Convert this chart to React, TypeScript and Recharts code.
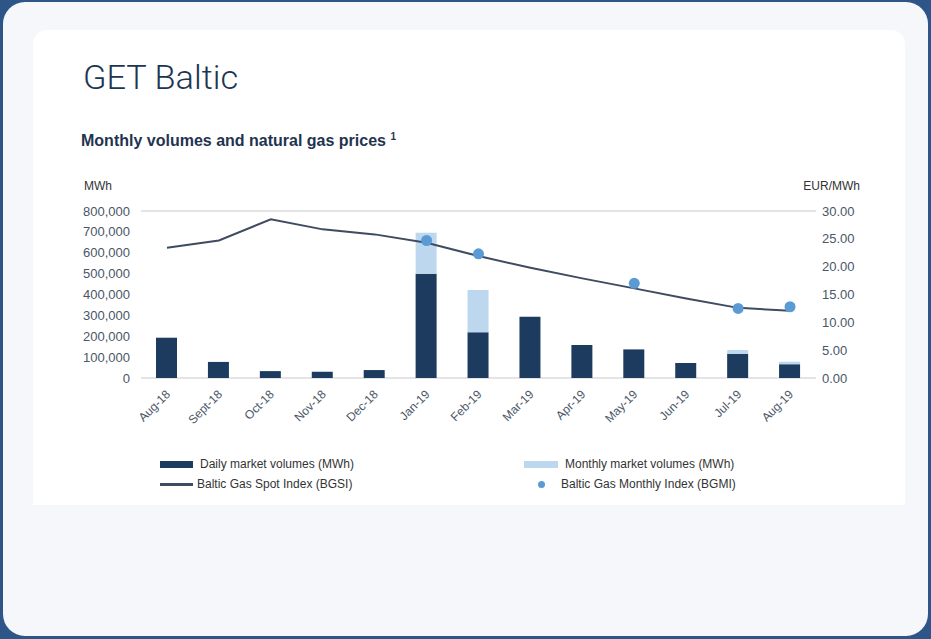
import {
  ComposedChart,
  Bar,
  Line,
  XAxis,
  YAxis,
  CartesianGrid,
} from "recharts";

const months = [
  "Aug-18", "Sept-18", "Oct-18", "Nov-18", "Dec-18", "Jan-19", "Feb-19",
  "Mar-19", "Apr-19", "May-19", "Jun-19", "Jul-19", "Aug-19",
];
const dailyVolumes = [193000, 77000, 33000, 30000, 38000, 500000, 219000, 294000, 158000, 137000, 72000, 116000, 66000];
const monthlyVolumes = [0, 0, 0, 0, 0, 196000, 202000, 0, 0, 0, 0, 18000, 12000];
const spotIndex = [23.4, 24.7, 28.5, 26.7, 25.8, 24.3, 21.9, 19.8, 17.9, 16.1, 14.3, 12.6, 12.1];
const monthlyIndex = [null, null, null, null, null, 24.7, 22.3, null, null, 17.0, null, 12.5, 12.8];

const volumeTicks = [0, 100000, 200000, 300000, 400000, 500000, 600000, 700000, 800000];
const priceTicks = [0, 5, 10, 15, 20, 25, 30];

const data = months.map((month, i) => ({
  month,
  daily: dailyVolumes[i],
  monthly: monthlyVolumes[i],
  bgsi: spotIndex[i],
  bgmi: monthlyIndex[i],
}));

const NAVY = "#1c3b5e";
const LIGHT = "#bdd7ee";
const LINE = "#3e4b61";
const DOT = "#5b9bd5";
const TICK = "#4a5668";
const FONT = "'Liberation Sans', Arial, sans-serif";

const MonthTick = (props: any) => {
  const { x, y, payload } = props;
  return (
    <text
      x={x + 4}
      y={y + 9}
      transform={`rotate(-45, ${x + 4}, ${y + 9})`}
      textAnchor="end"
      fontSize={12}
      fill={TICK}
      fontFamily={FONT}
    >
      {payload.value}
    </text>
  );
};

export default function App() {
  return (
    <div
      style={{
        position: "absolute",
        left: 0,
        top: 0,
        width: 931,
        height: 639,
        background: "#2e5587",
        overflow: "hidden",
        fontFamily: FONT,
      }}
    >
      <div
        style={{
          position: "absolute",
          left: 3,
          top: 2,
          width: 925,
          height: 634,
          background: "#f5f7fb",
          borderRadius: 22,
        }}
      />
      <div
        style={{
          position: "absolute",
          left: 33,
          top: 30,
          width: 872,
          height: 475,
          background: "#ffffff",
          borderRadius: "14px 14px 0 0",
        }}
      />
      <div
        style={{
          position: "absolute",
          left: 83,
          top: 58,
          fontSize: 33,
          color: "#1c3553",
          fontFamily: "Roboto, sans-serif",
          fontWeight: 300,
          letterSpacing: 0,
          lineHeight: "40px",
          transform: "scaleX(1.04)",
          transformOrigin: "left center",
        }}
      >
        GET Baltic
      </div>
      <div
        style={{
          position: "absolute",
          left: 81,
          top: 131,
          fontSize: 16,
          fontWeight: "bold",
          color: "#1f3450",
          whiteSpace: "nowrap",
        }}
      >
        Monthly volumes and natural gas prices{" "}
        <sup style={{ fontSize: 10 }}>1</sup>
      </div>
      <div style={{ position: "absolute", left: 84, top: 179, fontSize: 12, color: "#333" }}>MWh</div>
      <div style={{ position: "absolute", right: 931 - 860, top: 179, fontSize: 12, color: "#333" }}>
        EUR/MWh
      </div>

      <div style={{ position: "absolute", left: 0, top: 0 }}>
        <ComposedChart
          width={931}
          height={440}
          data={data}
          margin={{ top: 211, left: 66, right: 55, bottom: 12 }}
          barGap={0}
        >
          <CartesianGrid vertical={false} stroke="#e4e4e4" strokeWidth={2} />
          <XAxis
            dataKey="month"
            axisLine={false}
            tickLine={false}
            interval={0}
            height={50}
            tick={<MonthTick />}
          />
          <YAxis
            yAxisId="vol"
            orientation="left"
            width={75}
            domain={[0, 800000]}
            ticks={volumeTicks}
            interval={0}
            axisLine={false}
            tickLine={false}
            tickMargin={5}
            tickFormatter={(v: number) => v.toLocaleString("en-US")}
            tick={{ fontSize: 13, fill: TICK, fontFamily: FONT }}
          />
          <YAxis
            yAxisId="price"
            orientation="right"
            width={60}
            domain={[0, 30]}
            ticks={priceTicks}
            interval={0}
            axisLine={false}
            tickLine={false}
            tickMargin={0}
            tickFormatter={(v: number) => v.toFixed(2)}
            tick={{ fontSize: 13, fill: TICK, fontFamily: FONT, textAnchor: "start" }}
          />
          <Bar yAxisId="vol" dataKey="daily" stackId="v" fill={NAVY} barSize={21} isAnimationActive={false} />
          <Bar yAxisId="vol" dataKey="monthly" stackId="v" fill={LIGHT} barSize={21} isAnimationActive={false} />
          <Line
            yAxisId="price"
            dataKey="bgsi"
            type="linear"
            stroke={LINE}
            strokeWidth={2}
            dot={false}
            isAnimationActive={false}
          />
          <Line
            yAxisId="price"
            dataKey="bgmi"
            stroke="none"
            dot={{ r: 5.5, fill: DOT, stroke: "none" }}
            isAnimationActive={false}
          />
        </ComposedChart>
      </div>

      <div style={{ position: "absolute", left: 160, top: 454, fontSize: 12, color: "#333", lineHeight: "20px" }}>
        <div style={{ display: "flex", alignItems: "center" }}>
          <span style={{ width: 33, height: 7, background: NAVY, marginRight: 7 }} />
          Daily market volumes (MWh)
        </div>
        <div style={{ display: "flex", alignItems: "center" }}>
          <span style={{ width: 33, height: 3, background: LINE, marginRight: 4 }} />
          Baltic Gas Spot Index (BGSI)
        </div>
      </div>
      <div style={{ position: "absolute", left: 524, top: 454, fontSize: 12, color: "#333", lineHeight: "20px" }}>
        <div style={{ display: "flex", alignItems: "center" }}>
          <span style={{ width: 34, height: 7, background: LIGHT, marginRight: 7 }} />
          Monthly market volumes (MWh)
        </div>
        <div style={{ display: "flex", alignItems: "center" }}>
          <span style={{ width: 34, display: "flex", justifyContent: "center", marginRight: 3 }}>
            <span style={{ width: 7, height: 7, borderRadius: "50%", background: DOT }} />
          </span>
          Baltic Gas Monthly Index (BGMI)
        </div>
      </div>
    </div>
  );
}
